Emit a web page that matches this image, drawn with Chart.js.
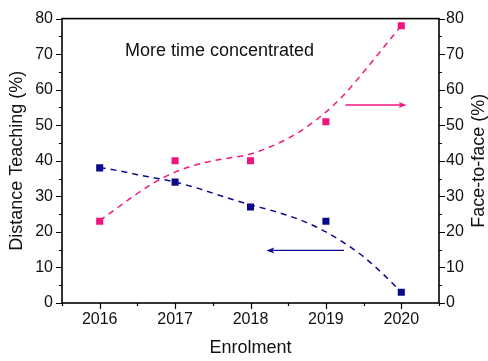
<!DOCTYPE html>
<html>
<head>
<meta charset="utf-8">
<script src="https://cdn.jsdelivr.net/npm/chart.js@4/dist/chart.umd.min.js"></script>
<style>
  html, body { margin: 0; padding: 0; background: #fff; }
  #wrap { width: 488px; height: 361px; }
</style>
</head>
<body>
<div id="wrap"><canvas id="c" width="488" height="361"></canvas></div>
<script>
// ---- data ----
const years = [2016, 2017, 2018, 2019, 2020];
const distanceTeaching = [38, 34, 27, 23, 3];
const faceToFace = [23, 40, 40, 51, 78];

// dashed fitted curves at quarter-year steps
const fitYears = [2016, 2016.25, 2016.5, 2016.75, 2017, 2017.25, 2017.5, 2017.75, 2018,
                  2018.25, 2018.5, 2018.75, 2019, 2019.25, 2019.5, 2019.75, 2020];
const distanceFit = [38.1, 37.2, 36.1, 35.1, 34.0, 32.6, 30.9, 29.2, 27.6,
                     26.2, 24.6, 22.6, 20.0, 16.8, 13.0, 8.3, 3.1];
const faceFit = [23.2, 27.0, 30.8, 34.2, 36.8, 38.7, 40.0, 40.9, 41.9,
                 43.8, 46.3, 49.6, 53.7, 58.8, 65.0, 71.5, 78.0];

const yTicks = [0, 10, 20, 30, 40, 50, 60, 70, 80];
const xLabel = 'Enrolment';
const yLeftLabel = 'Distance Teaching (%)';
const yRightLabel = 'Face-to-face (%)';
const noteText = 'More time concentrated';

// annotation anchors in data units
const noteAt = { x: 2017.59, y: 71 };
const pinkArrow = { from: [2019.26, 55.7], to: [2020.07, 55.7] };
const blueArrow = { from: [2019.24, 14.8], to: [2018.21, 14.8] };

const BLUE = '#0b0b8a';
const PINK = '#f0167e';
const FONT = "Arial, 'Liberation Sans', sans-serif";

const toXY = (xs, ys) => xs.map((x, i) => ({ x: x, y: ys[i] }));

const framePlugin = {
  id: 'frame',
  beforeDatasetsDraw(chart) {
    const { ctx, chartArea: a, scales } = chart;
    const x = scales.x, y = scales.y, y2 = scales.y2;
    ctx.save();
    ctx.strokeStyle = '#000';
    ctx.lineWidth = 1.6;
    ctx.strokeRect(a.left, a.top, a.right - a.left, a.bottom - a.top);
    ctx.lineWidth = 1.2;
    ctx.beginPath();
    // y ticks (major every 10, minor every 5), outward
    for (let v = 0; v <= 80; v += 5) {
      const len = v % 10 === 0 ? 6 : 3;
      const py = Math.round(y.getPixelForValue(v)) + 0.5;
      ctx.moveTo(a.left, py); ctx.lineTo(a.left - len, py);
      const py2 = Math.round(y2.getPixelForValue(v)) + 0.5;
      ctx.moveTo(a.right, py2); ctx.lineTo(a.right + len, py2);
    }
    // x ticks (major each year, minor half-year), downward
    for (let v = 2015.5; v <= 2020.5 + 1e-9; v += 0.5) {
      const len = Math.abs(v - Math.round(v)) < 1e-6 ? 6 : 3;
      const px = Math.round(x.getPixelForValue(v)) + 0.5;
      ctx.moveTo(px, a.bottom); ctx.lineTo(px, a.bottom + len);
    }
    ctx.stroke();
    ctx.restore();
  },
  afterDatasetsDraw(chart) {
    const { ctx, chartArea: a, scales } = chart;
    const x = scales.x, y = scales.y, y2 = scales.y2;
    ctx.save();
    // text note
    ctx.fillStyle = '#111';
    ctx.font = '18px ' + FONT;
    ctx.textAlign = 'center';
    ctx.textBaseline = 'middle';
    ctx.fillText(noteText, x.getPixelForValue(noteAt.x), y.getPixelForValue(noteAt.y));
    // right axis title, reading bottom-to-top like the left one
    ctx.save();
    ctx.translate(y2.right - 9, (a.top + a.bottom) / 2);
    ctx.rotate(-Math.PI / 2);
    ctx.fillText(yRightLabel, 0, 0);
    ctx.restore();
    // arrows
    const drawArrow = (arr, sc, color) => {
      const x1 = x.getPixelForValue(arr.from[0]), y1 = sc.getPixelForValue(arr.from[1]);
      const x2 = x.getPixelForValue(arr.to[0]), y2p = sc.getPixelForValue(arr.to[1]);
      const dir = Math.sign(x2 - x1);
      ctx.strokeStyle = color; ctx.fillStyle = color; ctx.lineWidth = 1.3;
      ctx.beginPath();
      ctx.moveTo(x1, y1); ctx.lineTo(x2 - dir * 4, y2p);
      ctx.stroke();
      ctx.beginPath();
      ctx.moveTo(x2, y2p);
      ctx.lineTo(x2 - dir * 8, y2p - 3);
      ctx.lineTo(x2 - dir * 6, y2p);
      ctx.lineTo(x2 - dir * 8, y2p + 3);
      ctx.closePath();
      ctx.fill();
    };
    drawArrow(pinkArrow, y2, PINK);
    drawArrow(blueArrow, y, BLUE);
    ctx.restore();
  }
};

new Chart(document.getElementById('c'), {
  type: 'scatter',
  data: {
    datasets: [
      {
        label: 'Distance Teaching fit', data: toXY(fitYears, distanceFit), yAxisID: 'y',
        showLine: true, borderColor: BLUE, borderWidth: 1.5, borderDash: [6, 5],
        pointRadius: 0, tension: 0.4, cubicInterpolationMode: 'monotone', fill: false
      },
      {
        label: 'Face-to-face fit', data: toXY(fitYears, faceFit), yAxisID: 'y2',
        showLine: true, borderColor: PINK, borderWidth: 1.5, borderDash: [6, 5],
        pointRadius: 0, tension: 0.4, cubicInterpolationMode: 'monotone', fill: false
      },
      {
        label: 'Distance Teaching', data: toXY(years, distanceTeaching), yAxisID: 'y',
        showLine: false, pointStyle: 'rect', pointRadius: 5,
        backgroundColor: BLUE, borderColor: BLUE, borderWidth: 0
      },
      {
        label: 'Face-to-face', data: toXY(years, faceToFace), yAxisID: 'y2',
        showLine: false, pointStyle: 'rect', pointRadius: 5,
        backgroundColor: PINK, borderColor: PINK, borderWidth: 0
      }
    ]
  },
  options: {
    responsive: false,
    animation: false,
    events: [],
    layout: { padding: { top: 17, left: 0, right: 0, bottom: 0 } },
    plugins: { legend: { display: false }, tooltip: { enabled: false } },
    scales: {
      x: {
        type: 'linear', min: 2015.5, max: 2020.5,
        afterBuildTicks: s => { s.ticks = years.map(v => ({ value: v })); },
        afterFit: s => { s.height = 58; },
        grid: { display: false, drawTicks: false },
        border: { display: false },
        ticks: { padding: 7, color: '#111', font: { family: FONT, size: 16 }, callback: v => String(v), maxRotation: 0 },
        title: { display: true, text: xLabel, color: '#111', font: { family: FONT, size: 18, lineHeight: 1 }, padding: { top: 0, bottom: 4 } }
      },
      y: {
        type: 'linear', position: 'left', min: 0, max: 80,
        afterBuildTicks: s => { s.ticks = yTicks.map(v => ({ value: v })); },
        afterFit: s => { s.width = 62; },
        grid: { display: false, drawTicks: false },
        border: { display: false },
        ticks: { padding: 9, color: '#111', font: { family: FONT, size: 16 } },
        title: { display: true, text: yLeftLabel, color: '#111', font: { family: FONT, size: 18, lineHeight: 1 }, padding: { top: 8.5, bottom: 0 } }
      },
      y2: {
        type: 'linear', position: 'right', min: 0, max: 80,
        afterBuildTicks: s => { s.ticks = yTicks.map(v => ({ value: v })); },
        afterFit: s => { s.width = 49; },
        grid: { display: false, drawTicks: false },
        border: { display: false },
        ticks: { padding: 7, color: '#111', font: { family: FONT, size: 16 } },
        title: { display: false }
      }
    }
  },
  plugins: [framePlugin]
});
</script>
</body>
</html>
